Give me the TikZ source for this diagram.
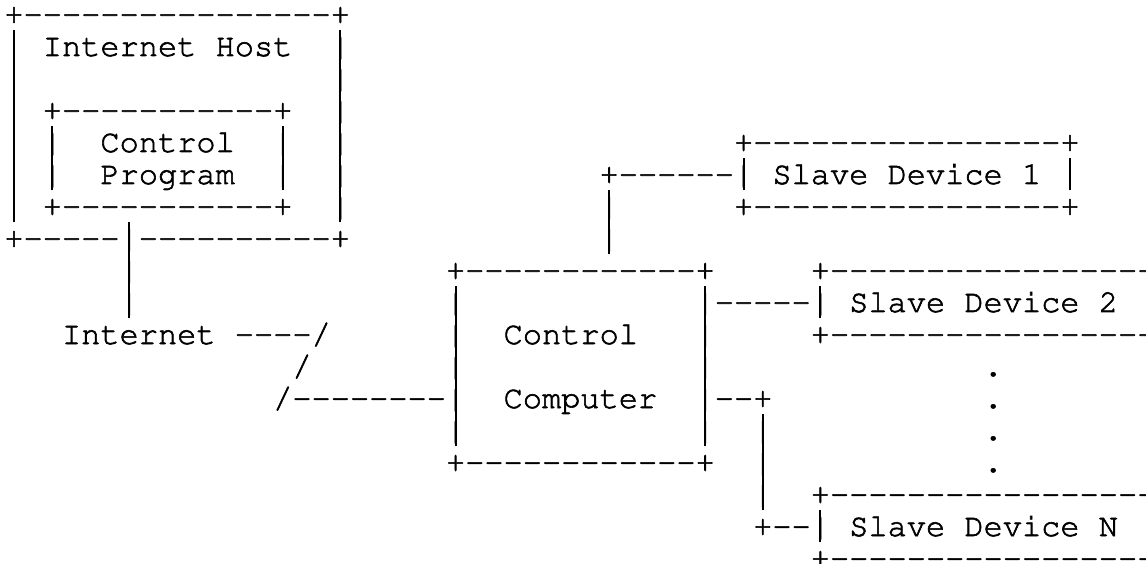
\documentclass[tikz,border=0pt]{standalone}
\usepackage[T1]{fontenc}
\renewcommand\ttdefault{pcr}

% runs of box-drawing characters without ligatures
\ExplSyntaxOn
\NewDocumentCommand\dashrun{m}{\prg_replicate:nn{#1}{-{}}}
\NewDocumentCommand\blank{m}{\prg_replicate:nn{#1}{\nobreakspace}}
\ExplSyntaxOff

% a bar backed by a rule over the full line pitch so stacked bars join up
\newcommand\vb{\rlap{\hbox to 0.6em{\hss\rule[-0.2em]{1.9bp}{1em}\hss}}|}
% slightly heavier glyphs: fill and stroke the outlines
\newcommand\heavy{\special{pdf:literal direct 2 Tr 0.6 w 0 G}}

\tikzset{
  ascii/.style={anchor=base west, inner sep=0pt, outer sep=0pt,
    font=\ttfamily\fontsize{32bp}{32bp}\selectfont, text=black}
}
% character cell grid: 19.2bp wide, 32bp line pitch
\newcommand\asc[4]{\node[ascii] (#1) at ({4.4+19.2*(#3)},{-24-32*(#2)}) {\heavy#4};}

\begin{document}
\begin{tikzpicture}[x=1bp,y=1bp]
\useasboundingbox (0,0) rectangle (1146,-564);
\clip (0,0) rectangle (1146,-564);

% Internet host with the control program
\asc{host-top}{0}{0}{+\dashrun{16}+}
\asc{host-title}{1}{0}{\vb\blank{1}Internet Host\blank{2}\vb}
\asc{host-r2}{2}{0}{\vb\blank{16}\vb}
\asc{host-r3}{3}{0}{\vb\blank{1}+\dashrun{11}+\blank{2}\vb}
\asc{host-r4}{4}{0}{\vb\blank{1}\vb\blank{2}Control\blank{2}\vb\blank{2}\vb}
\asc{host-r5}{5}{0}{\vb\blank{1}\vb\blank{2}Program\blank{2}\vb\blank{2}\vb}
\asc{host-r6}{6}{0}{\vb\blank{1}+\dashrun{11}+\blank{2}\vb}
\asc{host-bottom}{7}{0}{+\dashrun{5}\vb\dashrun{10}+}

% link through the Internet
\asc{link-a}{8}{6}{\vb}
\asc{link-b}{9}{6}{\vb}
\asc{inet}{10}{3}{Internet}
\asc{inet-dash}{10}{12}{\dashrun{4}/}
\asc{slash1}{11}{15}{/}
\asc{slash2}{12}{14}{/\dashrun{8}}

% control computer
\asc{cc-top}{8}{23}{+\dashrun{12}+}
\asc{cc-r9}{9}{23}{\vb\blank{12}\vb}
\asc{cc-r10}{10}{23}{\vb\blank{2}Control\blank{3}\vb}
\asc{cc-r11}{11}{23}{\vb\blank{12}\vb}
\asc{cc-r12}{12}{23}{\vb\blank{2}Computer\blank{2}\vb}
\asc{cc-r13}{13}{23}{\vb\blank{12}\vb}
\asc{cc-bottom}{14}{23}{+\dashrun{12}+}

% slave device 1
\asc{s1-top}{4}{38}{+\dashrun{16}+}
\asc{s1-link}{5}{31}{+\dashrun{6}}
\asc{s1-mid}{5}{38}{\vb\blank{1}Slave Device 1\blank{1}\vb}
\asc{s1-bottom}{6}{38}{+\dashrun{16}+}
\asc{s1-v1}{6}{31}{\vb}
\asc{s1-v2}{7}{31}{\vb}

% slave device 2
\asc{s2-top}{8}{42}{+\dashrun{19}}
\asc{s2-link}{9}{37}{\dashrun{5}}
\asc{s2-mid}{9}{42}{\vb\blank{1}Slave Device 2}
\asc{s2-bottom}{10}{42}{+\dashrun{19}}

% ellipsis
\asc{dot1}{11}{51}{.}
\asc{dot2}{12}{51}{.}
\asc{dot3}{13}{51}{.}
\asc{dot4}{14}{51}{.}

% slave device N
\asc{cc-out}{12}{37}{\dashrun{2}+}
\asc{sn-v1}{13}{39}{\vb}
\asc{sn-v2}{14}{39}{\vb}
\asc{sn-v3}{15}{39}{\vb}
\asc{sn-top}{15}{42}{+\dashrun{19}}
\asc{sn-link}{16}{39}{+\dashrun{2}}
\asc{sn-mid}{16}{42}{\vb\blank{1}Slave Device N}
\asc{sn-bottom}{17}{42}{+\dashrun{19}}
\end{tikzpicture}
\end{document}
